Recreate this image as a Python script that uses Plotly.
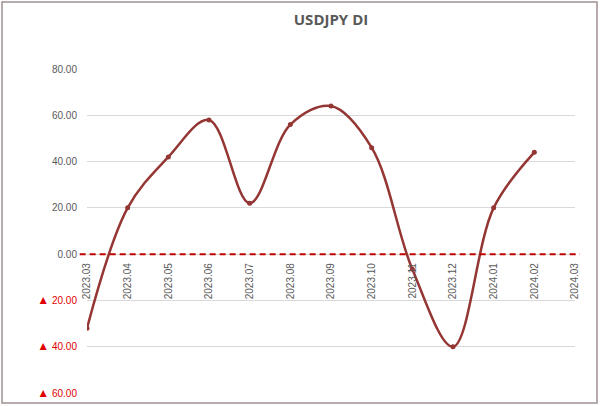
import plotly.graph_objects as go

months = ["2023.03", "2023.04", "2023.05", "2023.06", "2023.07", "2023.08", "2023.09",
          "2023.10", "2023.11", "2023.12", "2024.01", "2024.02", "2024.03"]
di_values = [-32, 20, 42, 58, 22, 56, 64, 46, -6.5, -40, 20, 44, None]

y_ticks = [80, 60, 40, 20, 0, -20, -40, -60]


def _tick_label(v):
    # Japanese-style negative: red triangle instead of minus sign
    if v < 0:
        return f"<span style='color:#E00000'><span style='font-size:12px'>▲</span> {abs(v):.2f}</span>"
    return f"{v:.2f}"


LINE_COLOR = "#943634"
TEXT_COLOR = "#595959"

fig = go.Figure()
fig.add_trace(go.Scatter(
    x=list(range(len(months))), y=di_values,
    mode="lines+markers",
    line=dict(color=LINE_COLOR, width=2.5, shape="spline", smoothing=1.0),
    marker=dict(color=LINE_COLOR, size=5),
    connectgaps=False, showlegend=False, hoverinfo="x+y",
))

# dashed zero reference line
fig.add_shape(type="line", xref="x domain", yref="y", x0=-0.015, x1=1.01, y0=0, y1=0,
              line=dict(color="#C00000", width=2, dash="6px,4px"))

# outer chart border
fig.add_shape(type="rect", xref="paper", yref="paper",
              x0=(2 - 87) / 488, x1=(597 - 87) / 488,
              y0=(393 - 403) / 324, y1=(393 - 2) / 324,
              line=dict(color="#A09090", width=1.5), layer="below")

fig.update_layout(
    width=600, height=406,
    margin=dict(l=87, r=25, t=69, b=13),
    paper_bgcolor="white", plot_bgcolor="white",
    title=dict(text="<b>USDJPY DI</b>", x=0.5, xref="paper", xanchor="center",
               y=1 - 20 / 406, yanchor="middle",
               font=dict(family="Open Sans, Liberation Sans, sans-serif", size=15, color=TEXT_COLOR)),
    font=dict(family="Liberation Sans, Arial, sans-serif", size=10, color=TEXT_COLOR),
)

fig.update_xaxes(
    range=[0, len(months) - 1],
    tickvals=list(range(len(months))), ticktext=months,
    tickangle=-90, anchor="free", position=60 / 140,
    showgrid=False, zeroline=False, showline=False, ticks="",
    ticklabelstandoff=6, automargin=False,
    tickfont=dict(size=10, color=TEXT_COLOR),
)
fig.update_yaxes(
    range=[-60, 80],
    tickvals=y_ticks, ticktext=[_tick_label(v) for v in y_ticks],
    showgrid=True, gridcolor="#D9D9D9", gridwidth=1,
    zeroline=False, showline=False, ticks="", ticklen=0,
    ticklabelstandoff=9, automargin=False,
    tickfont=dict(size=10, color=TEXT_COLOR),
)

# the page body has a default 8px margin; remove it so the figure fills the window
fig.write_html("out.html", config={"displayModeBar": False},
               post_script="document.body.style.margin='0';")
